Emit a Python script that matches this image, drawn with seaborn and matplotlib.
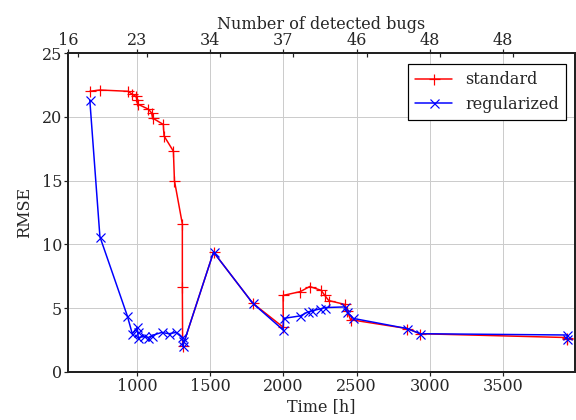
import matplotlib
matplotlib.use("Agg")
import matplotlib.pyplot as plt
import seaborn as sns
import pandas as pd

# --- data ---
std_time = [678, 747, 938, 964, 993, 1002, 1004, 1078, 1100, 1107, 1180, 1185,
            1249, 1256, 1310, 1310, 1312, 1523, 1790, 2000, 1998, 2116, 2180,
            2258, 2283, 2310, 2418, 2436, 2459, 2847, 2934, 3938, 3940]
std_rmse = [22.0, 22.1, 22.0, 21.8, 21.6, 21.3, 21.0, 20.6, 20.3, 19.9, 19.4, 18.5,
            17.3, 15.0, 11.6, 6.7, 2.0, 9.4, 5.4, 3.5, 6.0, 6.3, 6.7,
            6.4, 6.0, 5.6, 5.3, 4.8, 4.1, 3.4, 3.0, 2.7, 2.6]

reg_time = [678, 747, 934, 968, 1002, 1005, 1009, 1050, 1078, 1100, 1169, 1219,
            1267, 1306, 1317, 1312, 1523, 1790, 1998, 2002, 2116, 2167, 2196,
            2253, 2283, 2418, 2436, 2477, 2847, 2934, 3938, 3940]
reg_rmse = [21.3, 10.6, 4.4, 3.0, 3.5, 3.1, 2.7, 2.8, 2.7, 2.85, 3.1, 3.0,
            3.1, 2.75, 2.4, 2.0, 9.4, 5.4, 3.3, 4.2, 4.4, 4.7, 4.8,
            4.95, 5.05, 5.1, 4.7, 4.2, 3.4, 3.0, 2.9, 2.6]

bottom_ticks = [1000, 1500, 2000, 2500, 3000, 3500]
top_ticks = [529, 1000, 1500, 2000, 2500, 3000, 3500]
top_labels = ["16", "23", "34", "37", "46", "48", "48"]
y_ticks = [0, 5, 10, 15, 20, 25]
xlim = (529, 3992)

sns.set_theme(style="whitegrid")
plt.rcParams['font.family'] = ['DejaVu Serif']
plt.rcParams['axes.edgecolor'] = '#222222'
plt.rcParams['grid.color'] = '#cccccc'

FS = 16

fig = plt.figure(figsize=(8, 420/72), dpi=72)
ax = fig.add_axes([68/576, 1-372/420, (575-68)/576, (372-53)/420])

df_std = pd.DataFrame({"t": std_time, "r": std_rmse})
df_reg = pd.DataFrame({"t": reg_time, "r": reg_rmse})

sns.lineplot(data=df_std, x="t", y="r", sort=False, estimator=None, ax=ax,
             color="red", marker="+", markersize=11, markeredgewidth=1.2,
             markeredgecolor="red", linewidth=1.5, label="standard")
sns.lineplot(data=df_reg, x="t", y="r", sort=False, estimator=None, ax=ax,
             color="blue", marker="x", markersize=9, markeredgewidth=1.2,
             markeredgecolor="blue", linewidth=1.5, label="regularized")

ax.set_xlim(*xlim)
ax.set_ylim(0, 25)
ax.set_xticks(bottom_ticks)
ax.set_yticks(y_ticks)
ax.set_xlabel("Time [h]", fontsize=FS, labelpad=3)
ax.set_ylabel("RMSE", fontsize=FS, labelpad=8)
ax.tick_params(axis='both', labelsize=FS, direction='out', length=4, width=1.2,
               bottom=True, left=True, color='#222222', pad=2)
for s in ax.spines.values():
    s.set_linewidth(2)
    s.set_color('#222222')

ax2 = ax.twiny()
ax2.set_xlim(*xlim)
ax2.set_xticks(top_ticks)
ax2.set_xticklabels(top_labels)
ax2.set_xticks([t + 68 for t in top_ticks], minor=True)
ax2.grid(False)
ax2.set_xlabel("Number of detected bugs", fontsize=FS, labelpad=3)
ax2.tick_params(axis='x', which='major', labelsize=FS, direction='out', length=4,
                width=1.2, top=True, color='#222222', pad=0)
ax2.tick_params(axis='x', which='minor', direction='in', length=4, width=1.2,
                top=True, color='#222222')
for s in ax2.spines.values():
    s.set_linewidth(2)
    s.set_color('#222222')

leg = ax.legend(loc="upper right", fontsize=FS, fancybox=False, framealpha=1,
                edgecolor='black', borderpad=0.45, handlelength=2.3,
                labelspacing=0.45, bbox_to_anchor=(0.998, 0.99))
leg.get_frame().set_linewidth(1.2)

fig.savefig("out.png", dpi=72)
